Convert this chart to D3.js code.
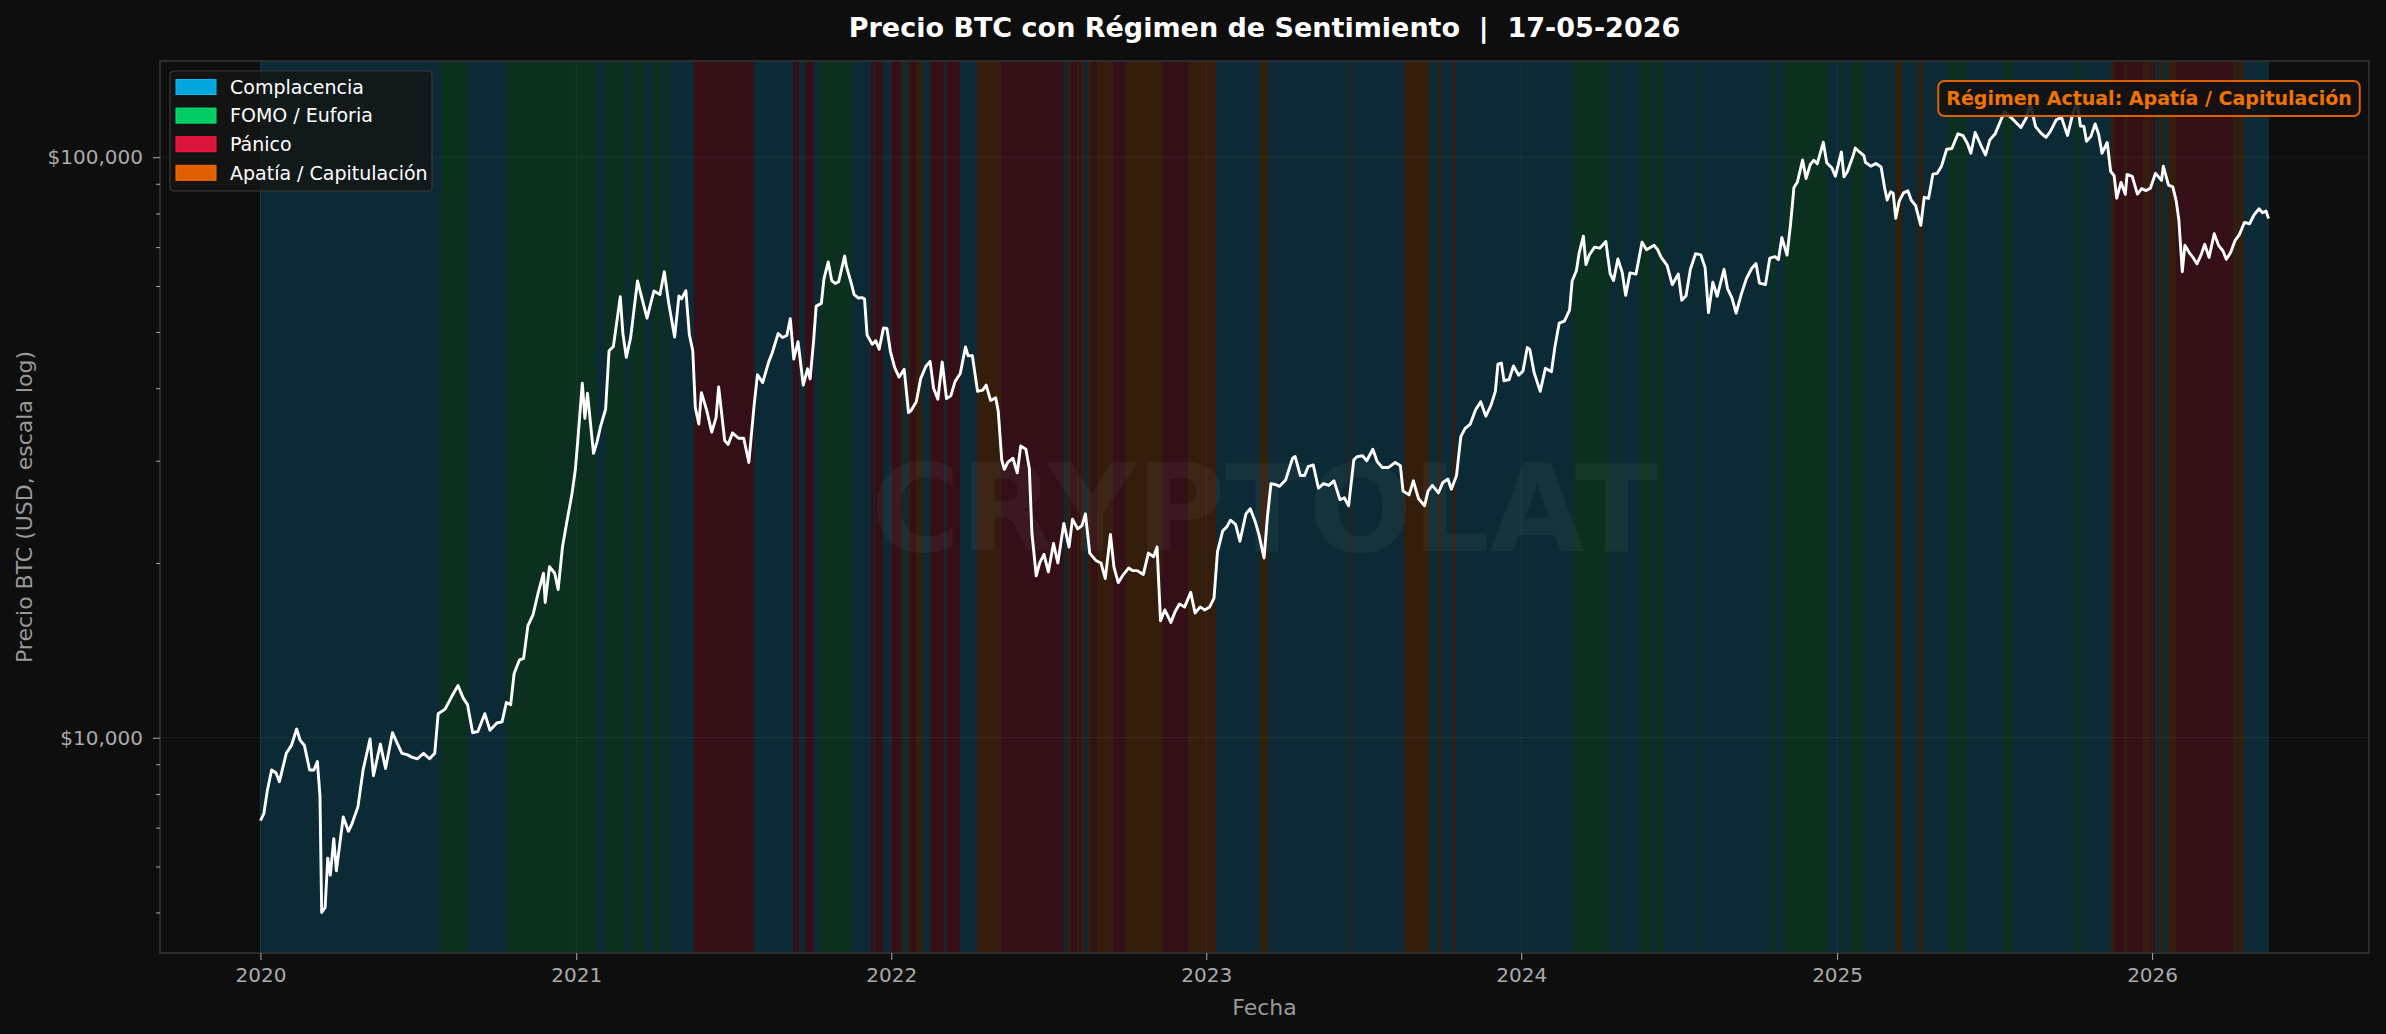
<!DOCTYPE html>
<html>
<head>
<meta charset="utf-8">
<script src="https://cdn.jsdelivr.net/npm/d3@7"></script>
<style>
  body { margin: 0; background: #0e0e0e; }
  svg { display: block; font-family: "DejaVu Sans", sans-serif; }
</style>
</head>
<body>
<svg id="chart" width="2386" height="1034"></svg>
<script>
// BTC daily-ish closes (USD)
const btcPrice = [
  ["2020-01-01",7200],["2020-01-05",7400],["2020-01-09",8100],["2020-01-14",8800],["2020-01-19",8700],["2020-01-23",8400],
  ["2020-01-31",9400],["2020-02-06",9700],["2020-02-12",10350],["2020-02-16",9900],["2020-02-21",9700],["2020-02-27",8800],
  ["2020-03-03",8800],["2020-03-07",9100],["2020-03-10",7950],["2020-03-12",5000],["2020-03-16",5100],["2020-03-19",6200],
  ["2020-03-22",5800],["2020-03-26",6700],["2020-03-29",5900],["2020-04-06",7300],["2020-04-12",6900],["2020-04-16",7100],
  ["2020-04-23",7600],["2020-04-29",8800],["2020-05-07",9950],["2020-05-11",8600],["2020-05-19",9750],["2020-05-25",8850],
  ["2020-06-02",10200],["2020-06-08",9750],["2020-06-13",9400],["2020-06-19",9350],["2020-06-25",9250],["2020-07-01",9200],
  ["2020-07-08",9400],["2020-07-15",9200],["2020-07-21",9400],["2020-07-25",11000],["2020-08-02",11200],["2020-08-10",11800],
  ["2020-08-17",12300],["2020-08-23",11700],["2020-08-28",11400],["2020-09-03",10200],["2020-09-09",10250],["2020-09-17",11000],
  ["2020-09-23",10300],["2020-10-01",10600],["2020-10-07",10650],["2020-10-12",11500],["2020-10-17",11400],["2020-10-21",12900],
  ["2020-10-27",13600],["2020-11-01",13700],["2020-11-06",15600],["2020-11-12",16300],["2020-11-18",17800],["2020-11-24",19200],
  ["2020-11-26",17100],["2020-12-01",19700],["2020-12-07",19200],["2020-12-11",18000],["2020-12-16",21300],["2020-12-21",23500],
  ["2020-12-27",26300],["2020-12-31",29000],
  ["2021-01-03",32800],["2021-01-08",40800],["2021-01-11",35500],["2021-01-14",39200],["2021-01-21",30900],["2021-01-25",32300],
  ["2021-01-29",34300],["2021-02-04",36800],["2021-02-08",46400],["2021-02-13",47200],["2021-02-17",52100],["2021-02-21",57500],
  ["2021-02-24",49700],["2021-02-28",45200],["2021-03-05",48900],["2021-03-09",54800],["2021-03-13",61200],["2021-03-17",58000],
  ["2021-03-24",52800],["2021-03-28",55800],["2021-04-01",58800],["2021-04-08",58000],["2021-04-13",63500],["2021-04-18",56200],
  ["2021-04-25",49000],["2021-04-30",57700],["2021-05-03",57000],["2021-05-08",58900],["2021-05-12",49500],["2021-05-16",46400],
  ["2021-05-19",37000],["2021-05-23",34700],["2021-05-26",39300],["2021-06-01",36700],["2021-06-07",33600],["2021-06-12",35600],
  ["2021-06-15",40200],["2021-06-22",32500],["2021-06-26",32000],["2021-07-01",33500],["2021-07-08",32800],["2021-07-14",32800],
  ["2021-07-20",29800],["2021-07-26",37300],["2021-07-30",42200],["2021-08-05",40900],["2021-08-12",44400],["2021-08-16",46000],
  ["2021-08-23",49700],["2021-08-28",48900],["2021-09-02",49300],["2021-09-06",52700],["2021-09-10",44900],["2021-09-15",48100],
  ["2021-09-21",40500],["2021-09-26",43200],["2021-09-29",41500],["2021-10-03",48200],["2021-10-06",55400],["2021-10-12",56000],
  ["2021-10-15",61700],["2021-10-20",66000],["2021-10-24",61300],["2021-10-28",60600],["2021-11-01",61000],["2021-11-08",67600],
  ["2021-11-10",64900],["2021-11-16",60400],["2021-11-19",58000],["2021-11-24",57200],["2021-11-28",57300],["2021-12-01",57000],
  ["2021-12-04",49400],["2021-12-10",47600],["2021-12-14",48300],["2021-12-18",46700],["2021-12-23",50800],["2021-12-27",50700],
  ["2021-12-31",46300],
  ["2022-01-05",43400],["2022-01-10",41800],["2022-01-16",43100],["2022-01-21",36300],["2022-01-24",36600],["2022-01-30",37900],
  ["2022-02-04",41500],["2022-02-10",43600],["2022-02-15",44500],["2022-02-19",40000],["2022-02-24",38300],["2022-03-01",44400],
  ["2022-03-06",38400],["2022-03-11",38800],["2022-03-16",41100],["2022-03-22",42400],["2022-03-28",47100],["2022-03-31",45500],
  ["2022-04-05",45500],["2022-04-11",39500],["2022-04-17",39700],["2022-04-21",40500],["2022-04-26",38100],["2022-05-02",38500],
  ["2022-05-05",36500],["2022-05-09",30100],["2022-05-12",29000],["2022-05-16",29800],["2022-05-22",30300],["2022-05-27",28600],
  ["2022-05-31",31800],["2022-06-06",31400],["2022-06-10",29100],["2022-06-13",22500],["2022-06-18",19000],["2022-06-22",20000],
  ["2022-06-27",20700],["2022-07-02",19300],["2022-07-08",21600],["2022-07-13",20000],["2022-07-20",23400],["2022-07-26",21300],
  ["2022-07-30",23800],["2022-08-05",22900],["2022-08-10",23200],["2022-08-14",24300],["2022-08-19",20800],["2022-08-26",20200],
  ["2022-09-01",20000],["2022-09-06",18800],["2022-09-12",22400],["2022-09-16",19700],["2022-09-21",18500],["2022-09-27",19100],
  ["2022-10-03",19600],["2022-10-08",19400],["2022-10-13",19400],["2022-10-20",19100],["2022-10-26",20800],["2022-11-01",20500],
  ["2022-11-05",21300],["2022-11-09",15900],["2022-11-14",16600],["2022-11-21",15800],["2022-11-26",16500],["2022-12-01",17000],
  ["2022-12-07",16800],["2022-12-14",17800],["2022-12-19",16400],["2022-12-25",16800],["2022-12-30",16600],
  ["2023-01-05",16800],["2023-01-10",17400],["2023-01-14",20900],["2023-01-20",22700],["2023-01-25",23100],["2023-01-29",23700],
  ["2023-02-04",23300],["2023-02-09",21800],["2023-02-16",24300],["2023-02-21",24800],["2023-02-27",23500],["2023-03-03",22400],
  ["2023-03-09",20400],["2023-03-13",24100],["2023-03-17",27400],["2023-03-22",27300],["2023-03-27",27100],["2023-04-03",27800],
  ["2023-04-11",30300],["2023-04-14",30500],["2023-04-20",28300],["2023-04-25",28300],["2023-04-29",29300],["2023-05-05",29500],
  ["2023-05-11",26900],["2023-05-17",27400],["2023-05-23",27200],["2023-05-29",27700],["2023-06-05",25700],["2023-06-10",25900],
  ["2023-06-15",25100],["2023-06-21",30100],["2023-06-25",30500],["2023-07-01",30600],["2023-07-06",30000],["2023-07-13",31400],
  ["2023-07-18",29900],["2023-07-24",29200],["2023-07-31",29200],["2023-08-08",29800],["2023-08-14",29400],["2023-08-17",26600],
  ["2023-08-24",26200],["2023-08-29",27700],["2023-09-04",25800],["2023-09-11",25100],["2023-09-15",26600],["2023-09-20",27200],
  ["2023-09-27",26400],["2023-10-02",27500],["2023-10-08",27900],["2023-10-12",26800],["2023-10-18",28300],["2023-10-23",33000],
  ["2023-10-28",34100],["2023-11-03",34700],["2023-11-09",36700],["2023-11-15",37900],["2023-11-21",35800],["2023-11-27",37400],
  ["2023-12-02",39500],["2023-12-05",44000],["2023-12-09",44200],["2023-12-12",41200],["2023-12-18",41400],["2023-12-23",43700],
  ["2023-12-29",42100],
  ["2024-01-03",42800],["2024-01-08",47000],["2024-01-11",46600],["2024-01-16",42500],["2024-01-23",39500],["2024-01-29",43300],
  ["2024-02-05",42700],["2024-02-09",47100],["2024-02-14",51800],["2024-02-20",52200],["2024-02-26",54500],["2024-02-29",61200],
  ["2024-03-05",63800],["2024-03-08",68300],["2024-03-13",73100],["2024-03-16",65300],["2024-03-20",67900],["2024-03-26",70000],
  ["2024-04-01",69700],["2024-04-08",71600],["2024-04-13",63000],["2024-04-17",61300],["2024-04-22",66800],["2024-04-27",63300],
  ["2024-05-01",57800],["2024-05-06",63200],["2024-05-13",62900],["2024-05-20",71400],["2024-05-25",69300],["2024-06-03",70500],
  ["2024-06-07",69300],["2024-06-11",67300],["2024-06-18",65100],["2024-06-24",60300],["2024-07-01",62900],["2024-07-05",56700],
  ["2024-07-10",57700],["2024-07-15",64100],["2024-07-21",68200],["2024-07-27",67900],["2024-08-01",64600],["2024-08-05",54000],
  ["2024-08-10",60900],["2024-08-15",57600],["2024-08-23",64100],["2024-08-27",59400],["2024-09-01",57300],["2024-09-06",53900],
  ["2024-09-12",58100],["2024-09-18",61800],["2024-09-24",64300],["2024-09-29",65600],["2024-10-03",60700],["2024-10-10",60300],
  ["2024-10-15",67000],["2024-10-21",67400],["2024-10-25",66600],["2024-10-29",72700],["2024-11-04",67800],["2024-11-08",76500],
  ["2024-11-12",88700],["2024-11-16",90600],["2024-11-22",98900],["2024-11-26",91900],["2024-12-01",97200],["2024-12-05",98800],
  ["2024-12-09",97400],["2024-12-16",106100],["2024-12-20",97800],["2024-12-26",95800],["2024-12-30",92700],
  ["2025-01-06",102100],["2025-01-09",92500],["2025-01-13",94500],["2025-01-20",101100],["2025-01-22",103700],["2025-01-27",102100],
  ["2025-02-01",100600],["2025-02-03",97900],["2025-02-09",96500],["2025-02-15",97500],["2025-02-21",96200],["2025-02-25",88700],
  ["2025-02-28",84400],["2025-03-04",87200],["2025-03-07",86700],["2025-03-10",78500],["2025-03-14",84000],["2025-03-19",86800],
  ["2025-03-24",87500],["2025-03-28",84300],["2025-04-02",82500],["2025-04-06",78200],["2025-04-08",76300],["2025-04-12",85300],
  ["2025-04-17",84900],["2025-04-22",93500],["2025-04-27",93800],["2025-05-02",96500],["2025-05-08",103200],["2025-05-14",103500],
  ["2025-05-21",109700],["2025-05-27",108900],["2025-06-01",105600],["2025-06-05",101600],["2025-06-10",110300],["2025-06-17",104500],
  ["2025-06-22",100900],["2025-06-27",107100],["2025-07-03",109600],["2025-07-10",116000],["2025-07-14",119800],["2025-07-19",117900],
  ["2025-07-25",115700],["2025-08-02",112500],["2025-08-08",116700],["2025-08-13",123300],["2025-08-19",112900],["2025-08-25",110100],
  ["2025-08-31",108200],["2025-09-05",110700],["2025-09-12",116000],["2025-09-18",117100],["2025-09-25",109000],["2025-10-01",118600],
  ["2025-10-06",124700],["2025-10-10",113200],["2025-10-14",113000],["2025-10-17",106500],["2025-10-22",108500],["2025-10-27",114100],
  ["2025-10-31",109600],["2025-11-04",101600],["2025-11-10",106000],["2025-11-14",94500],["2025-11-18",92900],["2025-11-21",85000],
  ["2025-11-26",90500],["2025-12-01",86300],["2025-12-03",93400],["2025-12-09",92700],["2025-12-15",86400],["2025-12-20",88300],
  ["2025-12-25",87600],["2025-12-30",88400],
  ["2026-01-05",93800],["2026-01-12",91200],["2026-01-14",96500],["2026-01-20",89500],["2026-01-25",88900],["2026-01-29",84000],
  ["2026-02-01",78000],["2026-02-05",63500],["2026-02-08",70500],["2026-02-13",68500],["2026-02-18",67000],["2026-02-22",65500],
  ["2026-02-27",68000],["2026-03-03",70800],["2026-03-08",67200],["2026-03-14",73800],["2026-03-19",70500],["2026-03-24",69000],
  ["2026-03-28",66700],["2026-04-02",68500],["2026-04-07",71800],["2026-04-12",73500],["2026-04-18",77200],["2026-04-24",76800],
  ["2026-04-29",79500],["2026-05-05",81500],["2026-05-09",80200],["2026-05-13",80800],["2026-05-16",78400]
];

// regime segments: start date + regime key (each runs until the next start)
const regimeSegments = [
  ["2020-01-01","C"],["2020-07-28","F"],["2020-08-27","C"],["2020-10-12","F"],["2021-01-25","C"],["2021-02-04","F"],
  ["2021-02-26","C"],["2021-03-05","F"],["2021-03-23","C"],["2021-03-31","F"],["2021-04-09","C"],["2021-04-14","F"],
  ["2021-04-20","C"],["2021-05-17","P"],["2021-07-26","C"],["2021-09-09","P"],["2021-09-16","C"],["2021-09-23","P"],
  ["2021-10-03","C"],["2021-10-10","F"],["2021-11-17","C"],["2021-12-09","P"],["2021-12-12","C"],["2021-12-13","P"],
  ["2021-12-22","C"],["2022-01-01","P"],["2022-01-12","A"],["2022-01-15","C"],["2022-01-20","A"],["2022-01-23","P"],
  ["2022-01-30","A"],["2022-02-06","C"],["2022-02-15","P"],["2022-03-03","C"],["2022-03-06","P"],["2022-03-22","C"],
  ["2022-04-10","A"],["2022-05-08","P"],["2022-07-20","C"],["2022-07-24","A"],["2022-07-28","P"],["2022-08-04","A"],
  ["2022-08-07","P"],["2022-08-09","A"],["2022-08-12","C"],["2022-08-17","A"],["2022-08-21","P"],["2022-08-27","A"],
  ["2022-09-15","P"],["2022-09-30","A"],["2022-11-11","P"],["2022-12-11","A"],["2023-01-12","C"],["2023-03-04","A"],
  ["2023-03-14","C"],["2023-06-13","A"],["2023-06-14","C"],["2023-06-16","A"],["2023-06-18","C"],["2023-08-18","A"],
  ["2023-09-16","C"],["2023-09-26","A"],["2023-09-30","C"],["2023-10-14","A"],["2023-10-17","C"],["2024-03-01","F"],
  ["2024-04-06","C"],["2024-04-07","F"],["2024-04-13","C"],["2024-04-22","F"],["2024-04-24","C"],["2024-05-17","F"],
  ["2024-05-30","C"],["2024-06-06","F"],["2024-06-14","C"],["2024-07-22","F"],["2024-07-23","C"],["2024-10-16","F"],
  ["2024-10-22","C"],["2024-10-31","F"],["2024-12-20","C"],["2025-01-04","F"],["2025-01-08","C"],["2025-01-17","F"],
  ["2025-02-01","C"],["2025-03-02","A"],["2025-03-03","C"],["2025-03-10","A"],["2025-03-17","C"],["2025-04-04","A"],
  ["2025-04-06","C"],["2025-04-07","A"],["2025-04-11","C"],["2025-05-09","F"],["2025-05-19","C"],["2025-05-21","F"],
  ["2025-05-30","C"],["2025-07-12","F"],["2025-07-24","C"],["2025-10-04","F"],["2025-10-11","C"],["2025-11-14","A"],
  ["2025-11-18","P"],["2025-11-29","A"],["2025-12-03","P"],["2025-12-22","A"],["2025-12-30","P"],["2026-01-04","C"],
  ["2026-01-09","A"],["2026-01-14","C"],["2026-01-20","A"],["2026-01-29","P"],["2026-04-05","A"],["2026-04-09","C"],
  ["2026-04-11","A"],["2026-04-18","C"]
];
const regimeEnd = "2026-05-17";

const regimeKeys = ["C", "F", "P", "A"];
const regimeLabels = ["Complacencia", "FOMO / Euforia", "Pánico", "Apatía / Capitulación"];
const regimeColors = ["#00a6de", "#00cc66", "#dc143c", "#e06000"];

const xTickYears = [2020, 2021, 2022, 2023, 2024, 2025, 2026];
const yTickValues = [10000, 100000];
const currentRegime = "Apatía / Capitulación";
const titleText = "Precio BTC con Régimen de Sentimiento  |  17-05-2026";

const parse = d3.utcParse("%Y-%m-%d");
const data = btcPrice.map(([d, v]) => ({ date: parse(d), value: v }));

const svg = d3.select("#chart");
const W = 2386, H = 1034;
const m = { left: 160, right: 2369, top: 61, bottom: 953 };

svg.append("rect").attr("width", W).attr("height", H).attr("fill", "#0e0e0e");

// x domain with 5% padding like matplotlib
const [d0, d1] = d3.extent(data, d => d.date);
const pad = (d1 - d0) * 0.05;
const x = d3.scaleUtc()
  .domain([new Date(+d0 - pad), new Date(+d1 + pad)])
  .range([m.left, m.right]);

const [v0, v1] = d3.extent(data, d => d.value);
const lpad = (Math.log10(v1) - Math.log10(v0)) * 0.05;
const y = d3.scaleLog()
  .domain([Math.pow(10, Math.log10(v0) - lpad), Math.pow(10, Math.log10(v1) + lpad)])
  .range([m.bottom, m.top]);

const color = d3.scaleOrdinal(regimeKeys, regimeColors);

// regime bands
const bands = svg.append("g");
regimeSegments.forEach(([start, key], i) => {
  const end = i < regimeSegments.length - 1 ? regimeSegments[i + 1][0] : regimeEnd;
  const xa = x(parse(start)), xb = x(parse(end));
  bands.append("rect")
    .attr("x", xa).attr("y", m.top)
    .attr("width", xb - xa).attr("height", m.bottom - m.top)
    .attr("fill", color(key)).attr("fill-opacity", 0.19)
    .attr("shape-rendering", "crispEdges");
});

// grid
const grid = svg.append("g").attr("stroke", "#ffffff").attr("stroke-opacity", 0.06).attr("stroke-width", 1);
xTickYears.forEach(yr => {
  const px = x(Date.UTC(yr, 0, 1));
  grid.append("line").attr("x1", px).attr("x2", px).attr("y1", m.top).attr("y2", m.bottom);
});
yTickValues.forEach(v => {
  grid.append("line").attr("x1", m.left).attr("x2", m.right).attr("y1", y(v)).attr("y2", y(v));
});

// watermark
svg.append("text")
  .attr("x", (m.left + m.right) / 2).attr("y", (m.top + m.bottom) / 2)
  .attr("dy", "0.36em")
  .attr("text-anchor", "middle")
  .attr("font-size", 122).attr("font-weight", "bold")
  .attr("fill", "#ffffff").attr("fill-opacity", 0.045)
  .text("CRYPTOLAT");

// price line
const line = d3.line().x(d => x(d.date)).y(d => y(d.value));
svg.append("path")
  .datum(data)
  .attr("d", line)
  .attr("fill", "none")
  .attr("stroke", "#ffffff")
  .attr("stroke-width", 2.9)
  .attr("stroke-linejoin", "round");

// frame
svg.append("rect")
  .attr("x", m.left).attr("y", m.top)
  .attr("width", m.right - m.left).attr("height", m.bottom - m.top)
  .attr("fill", "none").attr("stroke", "#333333").attr("stroke-width", 1.6);

// x axis
const xAxis = d3.axisBottom(x)
  .tickValues(xTickYears.map(yr => new Date(Date.UTC(yr, 0, 1))))
  .tickFormat(d3.utcFormat("%Y"))
  .tickSize(7).tickPadding(8);
const gx = svg.append("g").attr("transform", `translate(0,${m.bottom})`).call(xAxis);
gx.select(".domain").remove();
gx.selectAll("line").attr("stroke", "#aaaaaa");
gx.selectAll("text").attr("fill", "#aaaaaa").attr("font-size", 20).attr("font-family", "DejaVu Sans");

// y axis, major + minor ticks on log scale
const minorTicks = y.ticks().filter(v => !yTickValues.includes(v));
const gyMinor = svg.append("g").attr("transform", `translate(${m.left},0)`)
  .call(d3.axisLeft(y).tickValues(minorTicks).tickSize(4).tickFormat(""));
gyMinor.select(".domain").remove();
gyMinor.selectAll("line").attr("stroke", "#aaaaaa");

const gy = svg.append("g").attr("transform", `translate(${m.left},0)`)
  .call(d3.axisLeft(y).tickValues(yTickValues).tickFormat(d3.format("$,")).tickSize(7).tickPadding(10));
gy.select(".domain").remove();
gy.selectAll("line").attr("stroke", "#aaaaaa");
gy.selectAll("text").attr("fill", "#aaaaaa").attr("font-size", 20).attr("font-family", "DejaVu Sans");

// axis labels and title
svg.append("text")
  .attr("x", (m.left + m.right) / 2).attr("y", 1015)
  .attr("text-anchor", "middle").attr("font-size", 22).attr("fill", "#999999")
  .text("Fecha");

svg.append("text")
  .attr("transform", `translate(32,${(m.top + m.bottom) / 2}) rotate(-90)`)
  .attr("text-anchor", "middle").attr("font-size", 22).attr("fill", "#999999")
  .text("Precio BTC (USD, escala log)");

svg.append("text")
  .attr("x", (m.left + m.right) / 2).attr("y", 37)
  .attr("text-anchor", "middle").attr("font-size", 27).attr("font-weight", "bold").attr("fill", "#ffffff")
  .style("white-space", "pre")
  .text(titleText);

// legend
const legend = svg.append("g").attr("transform", "translate(170,71)");
legend.append("rect")
  .attr("width", 262).attr("height", 120).attr("rx", 4)
  .attr("fill", "#141414").attr("fill-opacity", 0.78)
  .attr("stroke", "#3a3a3a").attr("stroke-width", 1.2);
regimeLabels.forEach((label, i) => {
  const row = legend.append("g").attr("transform", `translate(0,${16 + i * 28.6})`);
  row.append("rect")
    .attr("x", 6).attr("y", -7.5).attr("width", 40).attr("height", 15)
    .attr("fill", regimeColors[i]).attr("stroke", d3.color(regimeColors[i]).brighter(0.4)).attr("stroke-width", 1);
  row.append("text")
    .attr("x", 60).attr("dy", "0.36em")
    .attr("font-size", 19).attr("fill", "#ffffff")
    .text(label);
});

// current regime badge
const badgeText = svg.append("text")
  .attr("x", 2149).attr("y", 98).attr("dy", "0.36em")
  .attr("text-anchor", "middle").attr("font-size", 19).attr("font-weight", "bold")
  .attr("fill", "#f27200")
  .text(`Régimen Actual: ${currentRegime}`);
const bb = badgeText.node().getBBox();
svg.insert("rect", () => badgeText.node())
  .attr("x", bb.x - 8).attr("y", 81)
  .attr("width", bb.width + 16).attr("height", 35).attr("rx", 6)
  .attr("fill", "#111111").attr("fill-opacity", 0.88)
  .attr("stroke", "#e06000").attr("stroke-width", 2);
</script>
</body>
</html>
